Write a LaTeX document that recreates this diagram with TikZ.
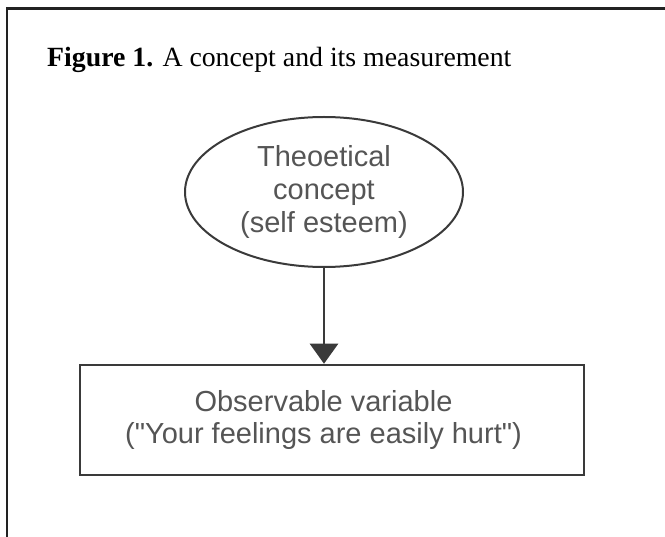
\documentclass[tikz,border=0pt]{standalone}
\usepackage{fontspec}
\setmainfont{Liberation Serif}
\setsansfont{Liberation Sans}
\usetikzlibrary{arrows.meta,positioning,shapes.geometric}
\definecolor{frameGray}{HTML}{222222}
\definecolor{lineGray}{HTML}{3A3A3A}
\definecolor{textGray}{HTML}{555555}

\begin{document}
\begin{tikzpicture}[
    x=1pt, y=-1pt,
    title/.style={anchor=base west, inner sep=0pt, font=\fontsize{27.8}{32}\selectfont},
    concept/.style={ellipse, draw=lineGray, line width=2pt, minimum width=278pt, minimum height=150pt, inner sep=0pt, align=center, text=textGray, font=\sffamily\fontsize{29}{33}\selectfont},
    measure/.style={draw=lineGray, line width=2.5pt, minimum width=504pt, minimum height=110pt, inner sep=0pt},
    itemtext/.style={text=textGray, align=center, inner sep=0pt, font=\sffamily\fontsize{29}{32}\selectfont},
    arr/.style={-{Triangle[length=20pt, width=28pt]}, line width=2.5pt, lineGray}
]
\useasboundingbox (0,0) rectangle (665,537);

% Open frame.
\draw[frameGray, line width=2.5pt] (7,537) -- (7,8.5) -- (665,8.5);
\node[title] (caption) at (47,67) {\textbf{Figure 1.} A concept and its measurement};

% Concept and its measurement.
\node[concept] (theory) at (324,192) {Theoetical\\concept\\(self esteem)};
\node[measure] (observed) at (332,420) {};
\node[itemtext] (item) at (323.5,420) {Observable variable\\(\textquotedbl Your feelings are easily hurt\textquotedbl)};
\draw[arr] (theory.south) -- (theory.south |- observed.north);
\end{tikzpicture}
\end{document}
